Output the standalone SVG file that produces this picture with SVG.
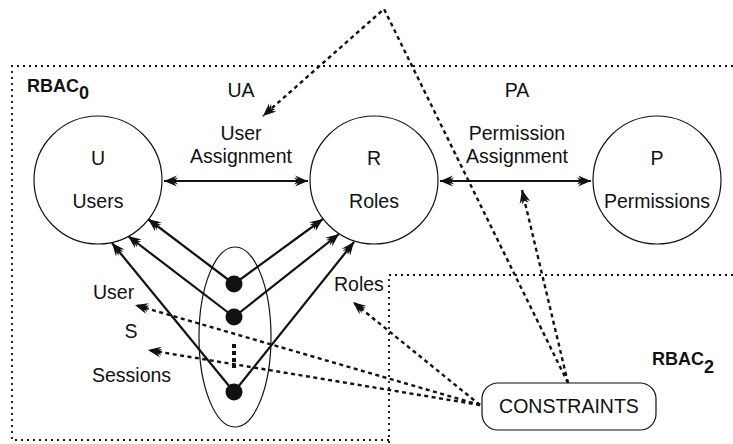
<svg xmlns="http://www.w3.org/2000/svg" width="733" height="444" viewBox="0 0 733 444">
<style>
text{font-family:"Liberation Sans",Arial,sans-serif;font-size:19.5px;fill:#111}
.b{font-weight:bold;font-size:18px}
.c{text-anchor:middle}
.node{fill:#fff;stroke:#111;stroke-width:1.2}
.sol{fill:none;stroke:#111;stroke-width:2.2}
.dash{fill:none;stroke:#111;stroke-width:2.4;stroke-dasharray:4 3.5}
.dot{fill:none;stroke:#111;stroke-width:1.8;stroke-dasharray:2 4}
</style>
<defs>
<marker id="ah" viewBox="-15 -7 16 14" refX="0" refY="0" markerWidth="16" markerHeight="14" markerUnits="userSpaceOnUse" orient="auto-start-reverse">
<path d="M0,0 L-13,-5.5 L-10,-2 L-14,-3.5 L-11,0 L-14,3.5 L-10,2 L-13,5.5 Z" fill="#111"/>
</marker>
</defs>
<g id="regions">
<path class="dot" d="M733,66 H12 V440 H389"/>
<path class="dot" d="M733,275 H389 V444"/>
<text class="b" x="27" y="92">RBAC<tspan dy="7">0</tspan></text>
<text class="b" x="652" y="365">RBAC<tspan dy="8">2</tspan></text>
</g>
<g id="connectors">
<line class="sol" x1="164" y1="181" x2="308" y2="181" marker-start="url(#ah)" marker-end="url(#ah)"/>
<line class="sol" x1="440" y1="181" x2="591" y2="181" marker-start="url(#ah)" marker-end="url(#ah)"/>
<line class="sol" x1="234" y1="284" x2="148" y2="219" marker-end="url(#ah)"/>
<line class="sol" x1="234" y1="317" x2="128" y2="236" marker-end="url(#ah)"/>
<line class="sol" x1="234" y1="392" x2="112" y2="243" marker-end="url(#ah)"/>
<line class="sol" x1="234" y1="284" x2="323" y2="219" marker-end="url(#ah)"/>
<line class="sol" x1="234" y1="317" x2="339" y2="234" marker-end="url(#ah)"/>
<line class="sol" x1="234" y1="392" x2="354" y2="242" marker-end="url(#ah)"/>
<path class="dash" d="M568,383 L384,9 L263,116" marker-end="url(#ah)"/>
<path class="dash" d="M568,383 L522,190" marker-end="url(#ah)"/>
<path class="dash" d="M480,405 L135,305" marker-end="url(#ah)"/>
<path class="dash" d="M480,405 L148,350" marker-end="url(#ah)"/>
<path class="dash" d="M480,405 L353,302" marker-end="url(#ah)"/>
<text class="c" x="241" y="97">UA</text>
<text class="c" x="241" y="140">User</text>
<text class="c" x="241" y="163">Assignment</text>
<text class="c" x="517" y="97">PA</text>
<text class="c" x="517" y="140">Permission</text>
<text class="c" x="517" y="163">Assignment</text>
<text x="93" y="299">User</text>
<text x="334" y="291">Roles</text>
</g>
<g id="users">
<circle class="node" cx="98" cy="180" r="64"/>
<text class="c" x="98" y="165">U</text>
<text class="c" x="98" y="208">Users</text>
</g>
<g id="roles">
<circle class="node" cx="374" cy="180" r="64"/>
<text class="c" x="374" y="165">R</text>
<text class="c" x="374" y="208">Roles</text>
</g>
<g id="permissions">
<circle class="node" cx="657" cy="180" r="64"/>
<text class="c" x="657" y="165">P</text>
<text class="c" x="657" y="208">Permissions</text>
</g>
<g id="sessions">
<ellipse cx="235" cy="337" rx="36" ry="90" fill="none" stroke="#111" stroke-width="1.2"/>
<circle cx="234" cy="284" r="8.5" fill="#111"/>
<circle cx="234" cy="317" r="8.5" fill="#111"/>
<circle cx="234" cy="392" r="8.5" fill="#111"/>
<line x1="234" y1="344" x2="234" y2="368" stroke="#111" stroke-width="4" stroke-dasharray="4 3"/>
<text class="c" x="131" y="338">S</text>
<text x="92" y="382">Sessions</text>
</g>
<g id="constraints">
<rect class="node" x="482" y="383" width="174" height="47" rx="16"/>
<text class="c" x="569" y="413">CONSTRAINTS</text>
</g>
</svg>
